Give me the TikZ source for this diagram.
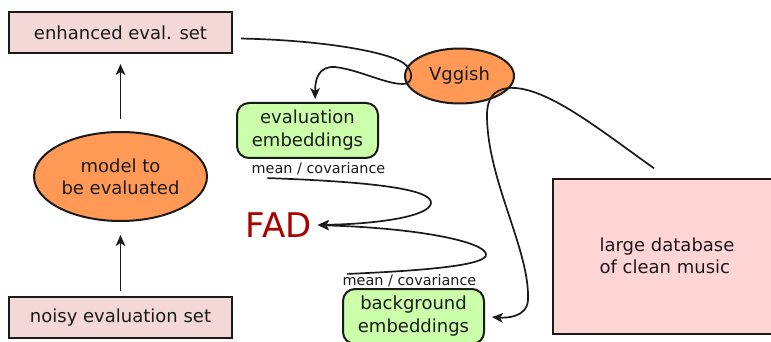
\documentclass[tikz,border=0pt]{standalone}
\usepackage{fontspec}
\setmainfont{DejaVu Sans}
\usepackage{xcolor}
\definecolor{cLine}{HTML}{1A1A1A}
\definecolor{cSet}{HTML}{F4D7D7}
\definecolor{cData}{HTML}{FFD5D5}
\definecolor{cModel}{HTML}{FF9955}
\definecolor{cEmb}{HTML}{CCFFAA}
\definecolor{cScore}{HTML}{AA0000}
\usepackage{tikz}
\usetikzlibrary{positioning,arrows.meta,shapes.geometric,calc}
\tikzset{
  node-set/.style={draw=cLine,line width=1pt,fill=cSet,text=cLine,
    minimum width=111.5pt,minimum height=20.5pt,font=\fontsize{9}{11}\selectfont},
  node-model/.style={draw=cLine,line width=1pt,ellipse,fill=cModel,text=cLine,
    inner sep=0pt,minimum width=86.5pt,minimum height=44.5pt,align=center,
    font=\fontsize{9}{11}\selectfont},
  node-emb/.style={draw=cLine,line width=1pt,rounded corners=6pt,fill=cEmb,
    text=cLine,minimum width=70.5pt,minimum height=27.5pt,align=center,
    font=\fontsize{9}{11.5}\selectfont},
  node-data/.style={draw=cLine,line width=1pt,fill=cData,text=cLine,
    minimum width=114pt,minimum height=77.5pt,align=left,
    font=\fontsize{9}{11}\selectfont},
  node-stat/.style={text=cLine,inner sep=0.5pt,font=\fontsize{7.2}{8.5}\selectfont},
  node-score/.style={text=cScore,inner sep=0pt,font=\fontsize{17}{20}\selectfont},
  arrow/.style={-{Stealth[length=5.5pt,width=4.8pt,inset=1.5pt]},line width=0.85pt,draw=cLine},
}

\begin{document}
\begin{tikzpicture}[x=0.5pt,y=-0.5pt]
  \useasboundingbox (0,0) rectangle (771,342);
  \clip (0,0) rectangle (771,342);
  \node[node-set]                                (enh)      at (120.5,32.5) {enhanced eval. set};
  \node[node-model,below=38.5pt of enh]          (model)    {model to\\be evaluated};
  \node[node-set,below=37pt of model]            (noisy)    {noisy evaluation set};
  \node[node-model,minimum width=54.5pt,minimum height=27.5pt] (vgg) at (459.5,76) {Vggish};
  \node[node-emb]                                (evalemb)  at (307.5,130.5) {evaluation\\embeddings};
  \node[node-stat,below=1pt of evalemb,xshift=5.5pt] (evalstat) {mean / covariance};
  \node[node-score]                              (fad)      at (278.5,225) {FAD};
  \node[node-emb]                                (bgemb)    at (413.5,316.5) {background\\embeddings};
  \node[node-stat,above=0pt of bgemb,xshift=-2pt] (bgstat)  {mean / covariance};
  \node[node-data]                               (db)       at (667,256) {large database\\of clean music};
  \draw[arrow,shorten <=6pt,shorten >=5pt]   (model) -- (enh);
  \draw[arrow,shorten <=2.5pt,shorten >=6.5pt] (noisy) -- (model);
  \draw[arrow,shorten <=4pt,shorten >=1.5pt] (enh.-3)
    .. controls (320,40) and (395,52) .. (407,66)
    .. controls (414,74) and (412,84) .. (403,84)
    .. controls (385,84) and (360,70) .. (335,67)
    .. controls (318,66) and (315,80) .. (evalemb.75);
  \draw[arrow,shorten <=8pt,shorten >=3.5pt] (db.north)
    .. controls (600,130) and (545,85) .. (508,88)
    .. controls (494,90) and (487,98) .. (487,115)
    .. controls (487,180) and (530,250) .. (528,300)
    .. controls (527,318) and (505,318) .. (bgemb.east);
  \draw[arrow,shorten >=3pt] ($(evalstat.south west)+(17,2)$)
    .. controls (380,182) and (432,190) .. (431,203)
    .. controls (430,216) and (380,224) .. (fad.east);
  \draw[arrow,shorten >=3pt] ($(bgstat.north west)+(6,1)$)
    .. controls (440,270) and (488,264) .. (486,254)
    .. controls (484,242) and (420,228) .. (fad.east);
\end{tikzpicture}
\end{document}
